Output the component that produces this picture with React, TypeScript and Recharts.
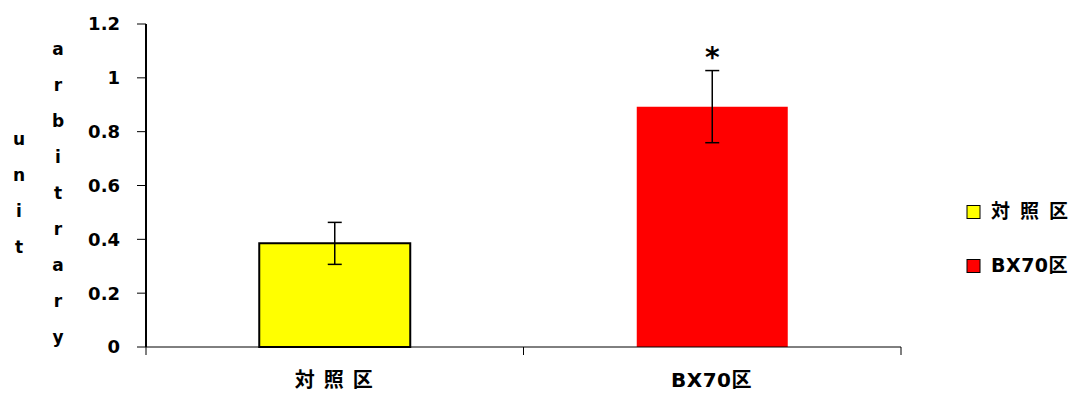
import React from 'react';
import { BarChart, Bar, XAxis, YAxis, ErrorBar, Cell, Legend, LabelList } from 'recharts';

const categories = ['対照区', 'BX70区'];
const values = [0.385, 0.893];
const errors = [0.078, 0.134];
const significance = ['', '*'];
const colors = ['#ffff00', '#ff0000'];
const barStrokes = ['#000000', 'none'];
const yTicks = [0, 0.2, 0.4, 0.6, 0.8, 1, 1.2];
const yLabelMain = 'arbitrary';
const yLabelUnit = 'unit';

const data = categories.map((name, i) => ({
  name,
  value: values[i],
  error: errors[i],
  sig: significance[i],
}));

const FONT = '"DejaVu Sans", "Noto Sans CJK JP", sans-serif';

const isCjk = (s: string) => /^[\u3000-\u9fff]+$/.test(s);

const XTick = (props: any) => {
  const { x, y, payload } = props;
  const half = payload && typeof payload.offset === 'number' ? payload.offset : 0;
  const axisY = y - 10;
  const label = String(payload.value);
  const sp = isCjk(label) ? 9 : 0.5;
  return (
    <g>
      <line x1={x - half} x2={x - half} y1={axisY} y2={axisY + 8} stroke="#000" strokeWidth={1} />
      <line x1={x + half} x2={x + half} y1={axisY} y2={axisY + 8} stroke="#000" strokeWidth={1} />
      <text
        x={x + sp / 2 - 1}
        y={axisY + 40}
        textAnchor="middle"
        fontSize={20}
        fontWeight="bold"
        letterSpacing={sp}
        fill="#000"
        fontFamily={FONT}
      >
        {label}
      </text>
    </g>
  );
};

const YLabel = () => (
  <g fontFamily={FONT} fontSize={17} fontWeight="bold" fill="#000" textAnchor="middle">
    {yLabelMain.split('').map((ch, i) => (
      <text key={'a' + i} x={58} y={55 + i * 36}>
        {ch}
      </text>
    ))}
    {yLabelUnit.split('').map((ch, i) => (
      <text key={'u' + i} x={19} y={145 + i * 36}>
        {ch}
      </text>
    ))}
  </g>
);

const renderLegend = () => (
  <svg width={137} height={100} style={{ display: 'block' }}>
    {categories.map((c, i) => {
      const sp = isCjk(c) ? 10 : 0.5;
      return (
        <g key={c}>
          <rect x={27} y={25.5 + i * 54} width={13} height={13} fill={colors[i]} stroke="#000" strokeWidth={1} />
          <text
            x={51}
            y={38 + i * 54}
            fontSize={19}
            fontWeight="bold"
            letterSpacing={sp}
            fill="#000"
            fontFamily={FONT}
          >
            {c}
          </text>
        </g>
      );
    })}
  </svg>
);

export default function App() {
  return (
    <div style={{ position: 'absolute', left: 0, top: 0, width: 1077, height: 395, background: '#fff' }}>
      <BarChart
        width={1077}
        height={395}
        data={data}
        margin={{ top: 24, right: 176, bottom: 0, left: 0 }}
        barCategoryGap="30%"
      >
        <XAxis
          dataKey="name"
          height={48}
          interval={0}
          tickLine={false}
          tickSize={8}
          tickMargin={2}
          axisLine={{ stroke: '#000', strokeWidth: 1 }}
          tick={<XTick />}
        />
        <YAxis
          width={146}
          domain={[0, 1.2]}
          ticks={yTicks}
          interval={0}
          tickSize={9}
          tickMargin={17}
          axisLine={{ stroke: '#000', strokeWidth: 2 }}
          tickLine={{ stroke: '#000', strokeWidth: 1 }}
          tick={{ fontSize: 18, fontWeight: 'bold', fill: '#000', fontFamily: FONT }}
          tickFormatter={(v: number) => String(v)}
          label={<YLabel />}
        />
        <Legend
          layout="vertical"
          align="center"
          verticalAlign="middle"
          content={renderLegend}
          wrapperStyle={{ left: 940, top: 180, width: 137, height: 100 }}
        />
        <Bar dataKey="value" isAnimationActive={false}>
          {data.map((d, i) => (
            <Cell key={d.name} fill={colors[i]} stroke={barStrokes[i]} strokeWidth={2} />
          ))}
          <ErrorBar dataKey="error" width={7} stroke="#000" strokeWidth={1.5} direction="y" />
          <LabelList
            dataKey="sig"
            position="top"
            offset={40}
            fontSize={28}
            fontWeight="bold"
            fill="#000"
            fontFamily={FONT}
          />
        </Bar>
      </BarChart>
    </div>
  );
}
